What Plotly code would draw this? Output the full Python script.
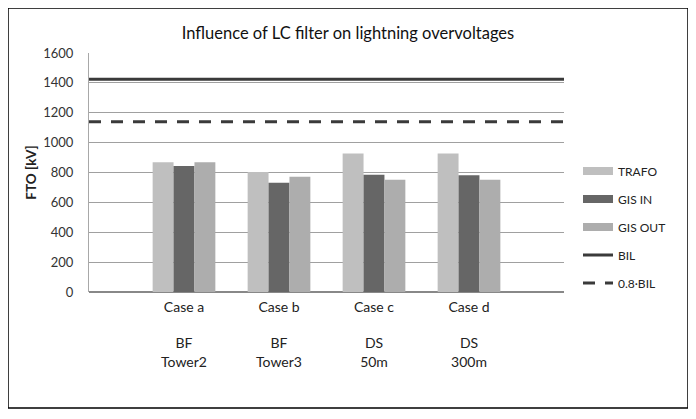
import plotly.graph_objects as go

categories = ["Case a<br> <br>BF<br>Tower2", "Case b<br> <br>BF<br>Tower3",
              "Case c<br> <br>DS<br>50m", "Case d<br> <br>DS<br>300m"]
trafo = [868, 803, 928, 928]
gis_in = [843, 732, 785, 781]
gis_out = [868, 772, 752, 752]
bil = 1425
bil_08 = 0.8 * bil
y_ticks = [0, 200, 400, 600, 800, 1000, 1200, 1400, 1600]

x_pos = list(range(len(categories)))
x_range = [-1, len(categories)]

c_trafo = "#bfbfbf"
c_gin = "#666666"
c_gout = "#adadad"
c_line = "#3a3a3a"

FONT = "Lato, sans-serif"

fig = go.Figure()
for name, vals, col in [("TRAFO", trafo, c_trafo), ("GIS IN", gis_in, c_gin), ("GIS OUT", gis_out, c_gout)]:
    fig.add_trace(go.Bar(x=x_pos, y=vals, name=name, marker=dict(color=col, line=dict(width=0)),
                         showlegend=False))
for name, col in [("TRAFO", c_trafo), ("GIS IN", c_gin), ("GIS OUT", c_gout)]:
    fig.add_trace(go.Scatter(x=[None], y=[None], mode="lines", name=name, legendgroup=name,
                             line=dict(color=col, width=8)))
fig.add_trace(go.Scatter(x=x_range, y=[bil, bil], mode="lines", name="BIL", legendgroup="BIL",
                         line=dict(color=c_line, width=3)))
fig.add_trace(go.Scatter(x=x_range, y=[bil_08, bil_08], mode="lines", name="0.8·BIL", legendgroup="BIL08",
                         line=dict(color=c_line, width=3, dash="12px,10px")))

# page has an 8px body margin; plot area target (in window px): x 89..564, y 53..292
L, T, R, B = 81, 45, 140, 135
PW, PH = 696 - L - R, 419 - T - B

fig.update_layout(
    width=696, height=419,
    margin=dict(l=L, r=R, t=T, b=B),
    paper_bgcolor="white", plot_bgcolor="white",
    barmode="group", bargap=0.34, bargroupgap=0,
    font=dict(family=FONT, color="#222222", size=12),
    title=dict(text="Influence of LC filter on lightning overvoltages", x=340 / 696, xref="container",
               xanchor="center", y=1 - 25 / 419, yanchor="middle",
               font=dict(family=FONT, size=16.5, color="#111111")),
    legend=dict(x=(578 - 89) / PW, xanchor="left", y=0.272, yanchor="middle", tracegroupgap=9,
                font=dict(family=FONT, size=12, color="#222222"), bgcolor="rgba(0,0,0,0)"),
    xaxis=dict(range=x_range, tickmode="array", tickvals=x_pos, ticktext=categories,
               showgrid=False, zeroline=False, showline=False, ticks="",
               ticklabelstandoff=5,
               tickfont=dict(family=FONT, size=14, color="#222222")),
    yaxis=dict(range=[0, 1600], tickmode="array", tickvals=y_ticks, showgrid=True,
               gridcolor="#a0a0a0", gridwidth=1, zeroline=True, zerolinecolor="#888888",
               zerolinewidth=1.5, showline=True, linecolor="#a8a8a8", linewidth=1, ticks="",
               ticklabelstandoff=12,
               title=dict(text="<b>FTO [kV]</b>", standoff=3, font=dict(family=FONT, size=13.5)),
               tickfont=dict(family=FONT, size=13, color="#333333")),
)

fig.add_shape(type="rect", xref="paper", yref="paper",
              x0=(0 - L) / PW, x1=(680 - L) / PW, y0=(419 - B - 400) / PH, y1=(419 - B - 0) / PH,
              line=dict(color="black", width=1.5), fillcolor="rgba(0,0,0,0)", layer="above")

fig.write_html("out.html")
